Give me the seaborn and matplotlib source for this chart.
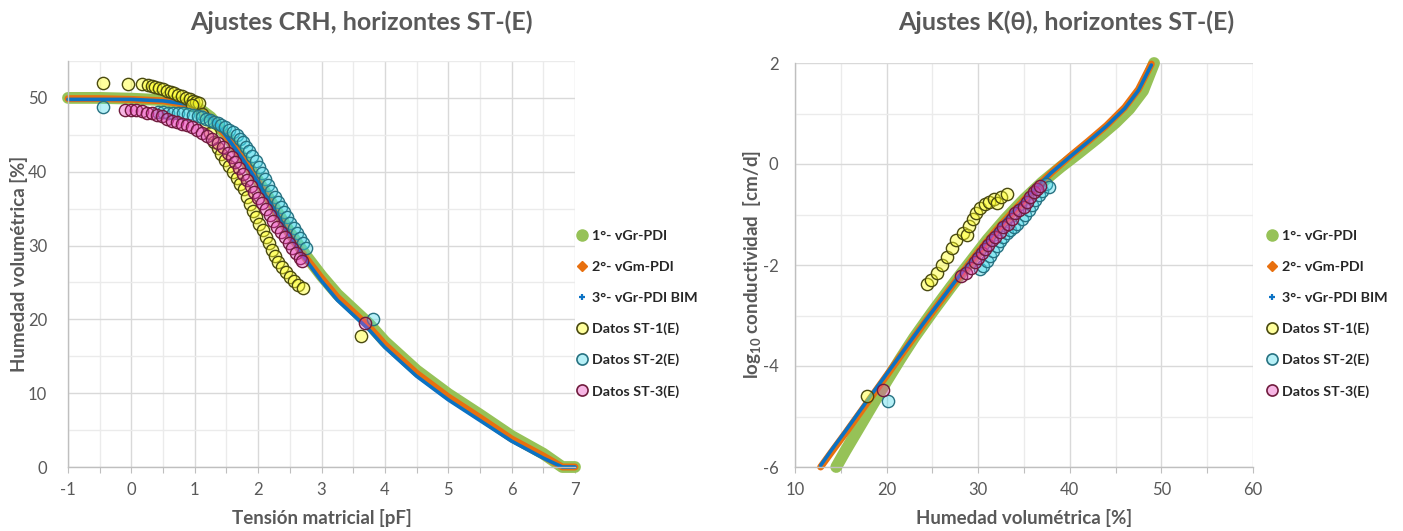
import matplotlib
matplotlib.use("Agg")
import matplotlib.pyplot as plt
from matplotlib.lines import Line2D
from matplotlib.ticker import MultipleLocator
import seaborn as sns

# ---------------- Curva de retención (CRH) ----------------
# Ajustes: tensión matricial pF -> humedad volumétrica %
crh_pf = [-1.0, -0.5, 0.0, 0.5, 1.0, 1.25, 1.5, 1.75, 2.0, 2.25, 2.5, 2.75,
          3.0, 3.25, 3.5, 3.75, 4.0, 4.5, 5.0, 5.5, 6.0, 6.5, 6.8, 7.0]
crh_vgr = [50.0, 50.0, 49.9, 49.7, 49.0, 47.4, 44.9, 42.0, 38.8, 35.3, 31.8, 28.7,
           25.9, 23.4, 21.4, 19.4, 17.0, 13.1, 9.9, 7.1, 4.2, 1.8, 0.0, 0.0]
crh_vgm = [49.9, 49.9, 49.8, 49.6, 48.9, 47.3, 44.8, 41.9, 38.7, 35.1, 31.6, 28.4,
           25.6, 23.0, 21.0, 19.0, 16.6, 12.7, 9.5, 6.7, 3.8, 1.5, 0.0, 0.0]
crh_bim = [49.8, 49.8, 49.8, 49.6, 49.0, 47.4, 44.8, 41.8, 38.5, 34.9, 31.3, 28.1,
           25.2, 22.6, 20.6, 18.6, 16.2, 12.3, 9.1, 6.3, 3.5, 1.2, 0.0, 0.0]

# Datos medidos ST-1(E)
st1_pf = [-0.44, -0.05, 0.16, 0.26, 0.32, 0.38, 0.44, 0.50, 0.56, 0.62, 0.68, 0.74,
          0.80, 0.86, 0.92, 0.97, 1.02, 1.06, 0.95, 1.12, 1.18, 1.24, 1.30, 1.36,
          1.42, 1.48, 1.54, 1.60, 1.66, 1.72, 1.77, 1.82, 1.87, 1.92, 1.97, 2.02,
          2.07, 2.12, 2.17, 2.22, 2.27, 2.32, 2.38, 2.44, 2.50, 2.56, 2.63, 2.71,
          3.63]
st1_th = [52.0, 51.9, 51.9, 51.8, 51.6, 51.5, 51.3, 51.2, 51.0, 50.8, 50.6, 50.4,
          50.2, 50.0, 49.8, 49.6, 49.4, 49.3, 49.0, 47.8, 46.6, 45.2, 44.0, 43.2,
          42.4, 41.6, 40.8, 40.0, 39.2, 38.4, 37.6, 36.6, 35.6, 34.7, 33.8, 32.9,
          32.1, 31.2, 30.3, 29.4, 28.6, 27.8, 27.1, 26.4, 25.8, 25.2, 24.7, 24.2,
          17.7]

# Datos medidos ST-2(E)
st2_pf = [-0.44, 0.42, 0.50, 0.58, 0.66, 0.74, 0.82, 0.90, 0.98, 1.05, 1.12, 1.18,
          1.24, 1.30, 1.36, 1.42, 1.48, 1.54, 1.60, 1.66, 1.71, 1.76, 1.81, 1.86,
          1.91, 1.96, 2.01, 2.06, 2.11, 2.16, 2.21, 2.26, 2.31, 2.36, 2.41, 2.46,
          2.51, 2.56, 2.61, 2.66, 2.71, 2.75, 3.81]
st2_th = [48.8, 48.1, 48.1, 48.0, 48.0, 47.9, 47.9, 47.8, 47.7, 47.6, 47.4, 47.2,
          47.0, 46.8, 46.6, 46.3, 46.0, 45.7, 45.4, 45.0, 44.5, 44.0, 43.4, 42.8,
          42.1, 41.4, 40.6, 39.8, 39.0, 38.2, 37.4, 36.6, 35.9, 35.2, 34.5, 33.8,
          33.1, 32.4, 31.7, 31.0, 30.3, 29.7, 20.1]

# Datos medidos ST-3(E)
st3_pf = [-0.10, 0.00, 0.08, 0.16, 0.24, 0.32, 0.40, 0.48, 0.56, 0.64, 0.72, 0.80,
          0.88, 0.96, 1.04, 1.12, 1.20, 1.28, 1.36, 1.44, 1.52, 1.58, 1.64, 1.70,
          1.76, 1.82, 1.88, 1.94, 2.00, 2.06, 2.12, 2.18, 2.24, 2.30, 2.36, 2.42,
          2.48, 2.54, 2.60, 2.66, 2.70, 3.68]
st3_th = [48.4, 48.4, 48.3, 48.2, 48.0, 47.9, 47.7, 47.5, 47.2, 46.9, 46.7, 46.5,
          46.3, 46.0, 45.7, 45.3, 44.9, 44.4, 43.9, 43.3, 42.6, 42.0, 41.3, 40.5,
          39.7, 38.9, 38.1, 37.3, 36.5, 35.7, 34.9, 34.1, 33.3, 32.5, 31.8, 31.1,
          30.4, 29.7, 29.0, 28.3, 27.9, 19.5]

# ---------------- Conductividad K(theta) ----------------
k_vgr_th = [14.5, 15.5, 17.0, 18.5, 20.0, 21.5, 23.0, 25.0, 27.0, 29.0, 31.0,
            33.0, 35.0, 37.0, 39.0, 41.0, 43.0, 45.0, 46.5, 48.0, 49.2]
k_vgr_lk = [-6.0, -5.68, -5.22, -4.76, -4.30, -3.86, -3.44, -2.93, -2.44, -1.97,
            -1.50, -1.08, -0.70, -0.36, -0.06, 0.22, 0.51, 0.82, 1.09, 1.45, 2.0]
k_fit_th = [12.8, 14.0, 15.5, 17.0, 18.5, 20.0, 22.0, 24.0, 26.0, 28.0, 30.0,
            32.0, 34.0, 36.0, 38.0, 40.0, 42.0, 44.0, 46.0, 47.5, 48.9]
k_vgm_lk = [-6.0, -5.70, -5.33, -4.95, -4.57, -4.19, -3.68, -3.18, -2.69, -2.21,
            -1.74, -1.30, -0.90, -0.52, -0.17, 0.15, 0.45, 0.76, 1.12, 1.48, 1.98]
k_bim_lk = [-5.97, -5.66, -5.29, -4.91, -4.53, -4.16, -3.66, -3.16, -2.68, -2.20,
            -1.73, -1.30, -0.90, -0.52, -0.17, 0.14, 0.44, 0.75, 1.10, 1.46, 1.96]

k1_th = [24.4, 24.9, 25.5, 26.0, 26.6, 27.1, 27.6, 28.3, 28.8, 29.0, 29.4, 29.8,
         30.2, 30.7, 31.2, 31.7, 32.1, 32.5, 33.1, 17.9]
k1_lk = [-2.38, -2.30, -2.15, -2.00, -1.85, -1.66, -1.50, -1.37, -1.40, -1.22,
         -1.08, -0.98, -0.87, -0.80, -0.76, -0.70, -0.77, -0.66, -0.60, -4.60]

k2_th = [30.18, 30.55, 30.92, 31.29, 31.65, 32.02, 32.39, 32.76, 33.13, 33.49,
         33.86, 34.23, 34.78, 35.15, 35.51, 35.88, 36.25, 36.62, 36.99, 37.35,
         37.72, 20.2]
k2_lk = [-2.08, -2.02, -1.92, -1.82, -1.73, -1.63, -1.53, -1.44, -1.37, -1.31,
         -1.24, -1.18, -1.08, -1.01, -0.92, -0.82, -0.72, -0.62, -0.53, -0.40,
         -0.46, -4.70]

k3_th = [28.16, 28.71, 29.26, 29.63, 30.0, 30.37, 30.74, 31.1, 31.47, 31.84,
         32.39, 32.76, 33.3, 33.68, 34.04, 34.41, 34.96, 35.33, 35.7, 36.07,
         36.43, 36.8, 19.6]
k3_lk = [-2.21, -2.15, -2.05, -1.95, -1.86, -1.76, -1.69, -1.60, -1.50, -1.44,
         -1.34, -1.24, -1.18, -1.08, -0.98, -0.92, -0.85, -0.75, -0.66, -0.56,
         -0.49, -0.43, -4.48]

series_labels = ["1°- vGr-PDI", "2°- vGm-PDI", "3°- vGr-PDI BIM",
                 "Datos ST-1(E)", "Datos ST-2(E)", "Datos ST-3(E)"]

# ---------------- styling ----------------
sns.set_theme(style="white")
plt.rcParams["font.family"] = ["Lato", "DejaVu Sans"]
plt.rcParams["mathtext.fontset"] = "custom"
plt.rcParams["mathtext.rm"] = "Lato:bold"
plt.rcParams["mathtext.default"] = "rm"
plt.rcParams["axes.unicode_minus"] = False

GREEN, ORANGE, BLUE = "#96c257", "#e8700f", "#0b72c4"
FACE1, EDGE1 = (1.0, 1.0, 0.15, 0.45), "#4a4a10"
FACE2, EDGE2 = (0.25, 0.85, 0.92, 0.38), "#277282"
FACE3, EDGE3 = (0.92, 0.25, 0.72, 0.38), "#701c3e"
GRAY_TXT = "#595959"
MAJ_GRID, MIN_GRID = "#d9d9d9", "#ebebeb"

fig = plt.figure(figsize=(14.03, 5.31), dpi=100)
ax1 = fig.add_axes([68 / 1403, 1 - 467 / 531, (575 - 68) / 1403, (467 - 61) / 531])
ax2 = fig.add_axes([795 / 1403, 1 - 467 / 531, (1253 - 795) / 1403, (467 - 63) / 531])


def draw_fits(ax, xs, ys):
    widths = [8.5, 5.0, 2.6]
    for x, y, col, lw in zip(xs, ys, [GREEN, ORANGE, BLUE], widths):
        sns.lineplot(x=x, y=y, sort=False, estimator=None, color=col, lw=lw,
                     solid_capstyle="round", solid_joinstyle="round", ax=ax,
                     legend=False, zorder=2, clip_on=False)


def draw_data(ax, sets):
    for (x, y), face, edge in zip(sets, [FACE1, FACE2, FACE3], [EDGE1, EDGE2, EDGE3]):
        sns.scatterplot(x=x, y=y, color=face, edgecolor=edge, linewidth=1.0,
                        s=78, ax=ax, legend=False, zorder=3)


draw_fits(ax1, [crh_pf, crh_pf, crh_pf], [crh_vgr, crh_vgm, crh_bim])
draw_data(ax1, [(st1_pf, st1_th), (st2_pf, st2_th), (st3_pf, st3_th)])

draw_fits(ax2, [k_vgr_th, k_fit_th, k_fit_th], [k_vgr_lk, k_vgm_lk, k_bim_lk])
draw_data(ax2, [(k1_th, k1_lk), (k2_th, k2_lk), (k3_th, k3_lk)])

ax1.set_xlim(-1, 7)
ax1.set_ylim(0, 55)
ax1.xaxis.set_major_locator(MultipleLocator(1))
ax1.xaxis.set_minor_locator(MultipleLocator(0.5))
ax1.yaxis.set_major_locator(MultipleLocator(10))
ax1.yaxis.set_minor_locator(MultipleLocator(5))

ax2.set_xlim(10, 60)
ax2.set_ylim(-6, 2)
ax2.xaxis.set_major_locator(MultipleLocator(10))
ax2.xaxis.set_minor_locator(MultipleLocator(5))
ax2.yaxis.set_major_locator(MultipleLocator(2))
ax2.yaxis.set_minor_locator(MultipleLocator(1))

for ax in (ax1, ax2):
    ax.set_axisbelow(True)
    ax.grid(which="major", color=MAJ_GRID, lw=1.0)
    ax.grid(which="minor", color=MIN_GRID, lw=1.0)
    for side in ("top", "right"):
        ax.spines[side].set_visible(False)
    for side in ("left", "bottom"):
        ax.spines[side].set_color("#bfbfbf")
        ax.spines[side].set_linewidth(1.0)
    ax.tick_params(axis="x", which="both", bottom=True, length=4, width=0.8,
                   color="#bfbfbf", labelsize=12, labelcolor=GRAY_TXT, pad=7)
    ax.tick_params(axis="y", which="both", left=False, labelsize=12,
                   labelcolor=GRAY_TXT, pad=9)
ax2.tick_params(axis="y", pad=6)

LABEL_KW = dict(fontsize=13.5, fontweight="bold", color=GRAY_TXT)
ax1.set_xlabel("Tensión matricial [pF]", labelpad=8, **LABEL_KW)
ax1.set_ylabel("Humedad volumétrica [%]", **LABEL_KW)
ax1.yaxis.set_label_coords((28 - 68) / 507, 0.5)
ax2.set_xlabel("Humedad volumétrica [%]", labelpad=8, **LABEL_KW)
ax2.set_ylabel(r"log$_{10}$ conductividad  [cm/d]", **LABEL_KW)
ax2.yaxis.set_label_coords((763 - 795) / 458, 0.5)

TITLE_KW = dict(ha="center", va="center", fontsize=18, fontweight="bold",
                color=GRAY_TXT)
fig.text(361 / 1403, 1 - 22 / 531, "Ajustes CRH, horizontes ST-(E)", **TITLE_KW)
fig.text(1066 / 1403, 1 - 22 / 531, "Ajustes K(θ), horizontes ST-(E)", **TITLE_KW)


def legend_handles():
    return [
        Line2D([], [], ls="none", marker="o", ms=8, mfc=GREEN, mec=GREEN),
        Line2D([], [], ls="none", marker="D", ms=5.5, mfc=ORANGE, mec=ORANGE),
        Line2D([], [], ls="none", marker="+", ms=5, mew=1.6, color=BLUE),
        Line2D([], [], ls="none", marker="o", ms=8, mfc=FACE1, mec=EDGE1, mew=1.2),
        Line2D([], [], ls="none", marker="o", ms=8, mfc=FACE2, mec=EDGE2, mew=1.2),
        Line2D([], [], ls="none", marker="o", ms=8, mfc=FACE3, mec=EDGE3, mew=1.2),
    ]


for x_anchor in (576 / 1403, 1266 / 1403):
    fig.legend(handles=legend_handles(), labels=series_labels, loc="center left",
               bbox_to_anchor=(x_anchor, 1 - 314 / 531), frameon=False,
               prop={"weight": "bold", "size": 10.3}, labelcolor="#262626",
               handlelength=0.8, handletextpad=0.35, labelspacing=1.3,
               borderaxespad=0, borderpad=0)

fig.savefig("out.png", dpi=100, facecolor="white")
